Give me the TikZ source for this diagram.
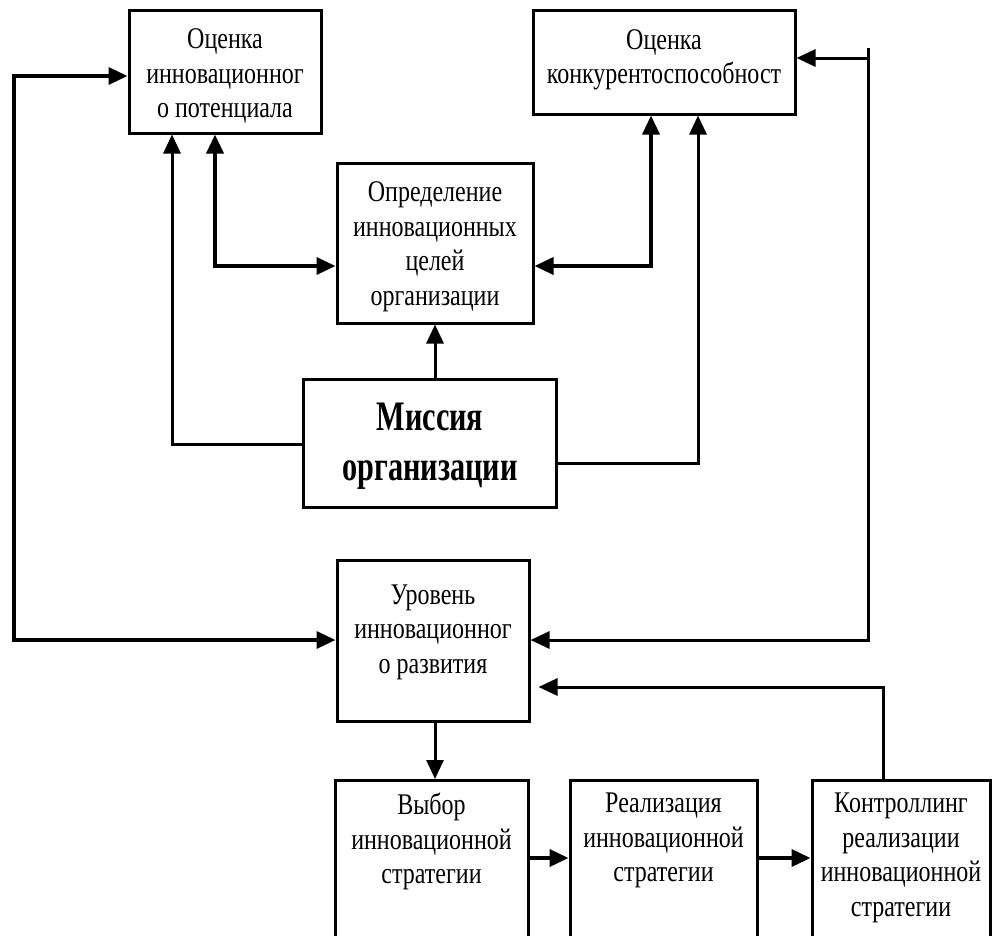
\documentclass[tikz,border=0pt]{standalone}
\usepackage{fontspec}
\setmainfont[FakeStretch=0.8]{Liberation Serif}
\newfontfamily\missfont[FakeStretch=0.72]{Liberation Serif}
\usetikzlibrary{arrows.meta,calc}
\tikzset{
  box/.style={draw=black, line width=3pt, rectangle, inner sep=0pt, fill=none},
  txt/.style={align=center, inner sep=0pt, font=\fontsize{30}{34.5}\selectfont},
  arr/.style={line width=3pt, -{Triangle[length=19pt,width=17pt]}},
  tarr/.style={line width=3.6pt, -{Triangle[length=19pt,width=17pt]}},
  darr/.style={line width=3.4pt, {Triangle[length=19pt,width=17pt]}-{Triangle[length=19pt,width=17pt]}}
}
\begin{document}
\begin{tikzpicture}[x=1pt,y=-1pt]
\useasboundingbox (0,0) rectangle (992,935);
\clip (0,0) rectangle (992,935);
\fill[white] (0,0) rectangle (992,935);
% boxes
\node[box, minimum width=192pt, minimum height=123pt] (b1) at (225,71.5) {};
\node[txt] (b1t) at (225,76) {Оценка\\инновационног\\о потенциала};
\node[box, minimum width=262pt, minimum height=104pt] (b2) at (664,62) {};
\node[txt] (b2t) at (664,60) {Оценка\\конкурентоспособност};
\node[box, minimum width=196pt, minimum height=160pt] (b3) at (435,243) {};
\node[txt] (b3t) at (435,247) {Определение\\инновационных\\целей\\организации};
\node[box, minimum width=253pt, minimum height=128pt] (ms) at (429.5,443) {};
\node[align=center, inner sep=0pt, font=\missfont\bfseries\fontsize{42}{50}\selectfont] (mst) at (430,446) {Миссия\\организации};
\node[box, minimum width=192pt, minimum height=161pt] (lv) at (433,640.5) {};
\node[txt] (lvt) at (433,632) {Уровень\\инновационног\\о развития};
\node[box, minimum width=193pt, minimum height=220pt, anchor=north] (s1) at (431.5,779) {};
\node[txt, anchor=north] (s1t) at (431.5,793) {Выбор\\инновационной\\стратегии};
\node[box, minimum width=187pt, minimum height=220pt, anchor=north] (s2) at (663.5,779) {};
\node[txt, anchor=north] (s2t) at (663.5,793) {Реализация\\инновационной\\стратегии};
\node[box, minimum width=178pt, minimum height=220pt, anchor=north] (s3) at (901,779) {};
\node[txt, anchor=north] (s3t) at (901,793) {Контроллинг\\реализации\\инновационной\\стратегии};
% coordinates
\coordinate (L1) at (14,76);
\coordinate (L2) at (14,640);
\coordinate (R0) at (868,48);
\coordinate (R1) at (868,58);
\coordinate (R2) at (868,640);
\coordinate (C1) at (883,687);
\coordinate (M1) at (172,444);
\coordinate (M2) at (698,463);
\coordinate (D1) at (215,266);
\coordinate (D2) at (651,266);
\coordinate (V1) at (435,0);
\coordinate (H1) at (0,858);
% connectors
\draw[darr] (b1.west |- L1) -- (L1) -- (L2) -- (lv.west |- L2);
\draw[arr] (R0) -- (R2) -- (lv.east |- R2);
\draw[arr] (R1) -- (b2.east |- R1);
\draw[arr, shorten >=8pt] (s3.north -| C1) -- (C1) -- (lv.east |- C1);
\draw[arr] (lv.south -| V1) -- (s1.north -| V1);
\draw[tarr] (s1.east |- H1) -- (s2.west |- H1);
\draw[tarr] (s2.east |- H1) -- (s3.west |- H1);
\draw[arr] (ms.north -| V1) -- (b3.south -| V1);
\draw[arr] (ms.west |- M1) -- (M1) -- (b1.south -| M1);
\draw[arr] (ms.east |- M2) -- (M2) -- (b2.south -| M2);
\draw[darr] (b1.south -| D1) -- (D1) -- (b3.west |- D1);
\draw[darr] (b2.south -| D2) -- (D2) -- (b3.east |- D2);
\end{tikzpicture}
\end{document}
